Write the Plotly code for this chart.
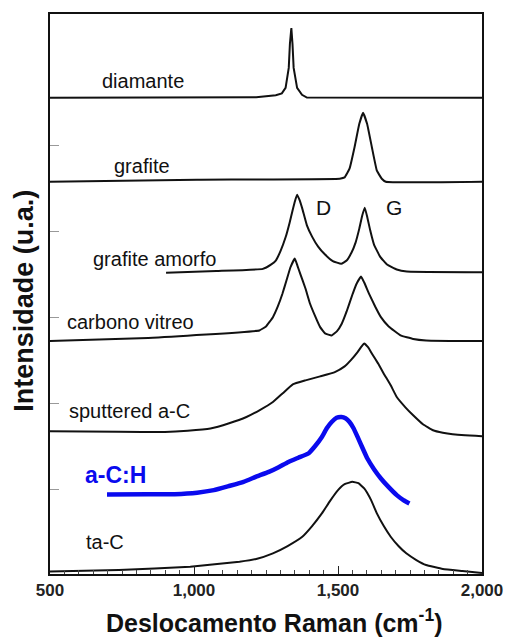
import plotly.graph_objects as go

# Raman shift (cm-1) and stacked intensity (a.u., offset)
diam_x = [500, 1011, 1216, 1284, 1305, 1318, 1329, 1333, 1338, 1342, 1346, 1358, 1375, 1392, 2000]
diam_y = [476, 476, 476.5, 478.7, 480.5, 486, 506, 530, 546, 530, 506, 486, 479, 476.3, 476]

graf_x = [500, 1011, 1506, 1523, 1540, 1557, 1574, 1587, 1601, 1618, 1635, 1652, 1666, 2000]
graf_y = [392, 394, 395, 396.3, 405, 426, 450, 461, 450, 426, 403, 395, 392, 392]

amor_x = [903, 1078, 1239, 1267, 1284, 1301, 1318, 1332, 1342, 1351, 1358, 1366, 1376, 1392, 1410,
          1431, 1455, 1482, 1511, 1530, 1547, 1561, 1574, 1584, 1593, 1602, 1612, 1625, 1646, 1670,
          1704, 1739, 2000]
amor_y = [300.7, 302.5, 304.7, 309, 313, 323, 336.3, 351, 363, 373, 379, 374, 365, 348.3, 337,
          327, 319, 312.5, 309.7, 313, 321, 331, 345, 358, 366, 356, 343, 329, 317, 309,
          304, 302, 301.3]

vitr_x = [500, 841, 1227, 1250, 1274, 1291, 1307, 1321, 1335, 1350, 1359, 1369, 1387, 1403, 1421,
          1438, 1455, 1478, 1496, 1513, 1530, 1551, 1565, 1580, 1591, 1608, 1629, 1649, 1676, 1717,
          1761, 1806, 2000]
vitr_y = [232.3, 235.5, 243, 247, 256.3, 267, 279.7, 293, 306.3, 315, 308, 299.7, 285, 269.7, 257,
          246.3, 240, 238, 242, 249.7, 262, 279.7, 290, 297, 291, 279.7, 267, 256.3, 247, 238,
          234.5, 233, 232.3]

sput_x = [500, 739, 899, 978, 1057, 1122, 1182, 1227, 1274, 1308, 1343, 1387, 1438, 1489, 1523, 1544,
          1568, 1582, 1591, 1605, 1618, 1639, 1659, 1683, 1704, 1734, 1761, 1795, 1830, 1864, 1898, 2000]
sput_y = [142, 141.5, 141.3, 142.5, 144.7, 150, 156.3, 163, 171.3, 180, 189, 193, 197, 201.3, 207, 213,
          221.3, 227, 230, 226, 219.7, 210, 199.7, 188, 176.3, 166, 158, 149, 143, 140.5, 139, 137]

ach_x = [698, 841, 933, 1011, 1069, 1120, 1172, 1216, 1260, 1294, 1328, 1362, 1397, 1420, 1444, 1461,
         1478, 1495, 1512, 1526, 1540, 1554, 1568, 1584, 1602, 1625, 1649, 1676, 1704, 1727, 1748]
ach_y = [78.7, 78.8, 79, 80.5, 83, 87, 91.3, 96.5, 101.3, 106, 111.3, 115.5, 119.7, 127, 136.3, 145,
         151.3, 155.5, 156.3, 155, 151.3, 145, 136.3, 126, 114.7, 104, 94.7, 86, 78, 73, 69.7]

tac_x = [500, 739, 987, 1158, 1216, 1274, 1325, 1376, 1410, 1444, 1472, 1500, 1523, 1550, 1571, 1591,
         1615, 1635, 1659, 1683, 1710, 1737, 1772, 1806, 1864, 1932, 2000]
tac_y = [1.5, 3, 6.3, 11.3, 14, 19.7, 27, 36.3, 47, 59.7, 72, 83, 89, 91.3, 90, 84.7,
         73, 59.7, 47, 36.3, 27, 19.7, 13, 8, 4, 2, 0]

x_tickvals = [500, 1000, 1500, 2000]
x_ticktext = ["500", "1,000", "1,500", "2,000"]
y_tickvals = [84, 170, 256, 342, 428]

labels = ["diamante", "grafite", "D", "G", "grafite amorfo", "carbono vitreo",
          "sputtered a-C", "a-C:H", "ta-C"]
label_x = [824, 818, 1450, 1695, 864, 780, 777, 727, 691]
label_y = [493, 408, 366, 366, 315, 251, 162, 98, 31]

FONT = "Liberation Sans, Arial, sans-serif"
BLUE = "#0a0aee"

fig = go.Figure()
black_series = [(diam_x, diam_y, "linear"), (graf_x, graf_y, "spline"),
                (amor_x, amor_y, "spline"), (vitr_x, vitr_y, "spline"),
                (sput_x, sput_y, "spline"), (tac_x, tac_y, "spline")]
for xs, ys, shp in black_series:
    fig.add_trace(go.Scatter(x=xs, y=ys, mode="lines",
                             line=dict(color="#111111", width=2, shape=shp, smoothing=0.3),
                             showlegend=False, hoverinfo="skip"))
fig.add_trace(go.Scatter(x=ach_x, y=ach_y, mode="lines",
                         line=dict(color=BLUE, width=4.5, shape="spline", smoothing=0.4),
                         showlegend=False, hoverinfo="skip"))

for txt, lx, ly in zip(labels, label_x, label_y):
    if txt == "a-C:H":
        fnt = dict(family=FONT, size=23, color=BLUE)
        t = "<b>a-C:H</b>"
    elif txt in ("D", "G"):
        fnt = dict(family=FONT, size=21, color="#111111")
        t = txt
    else:
        fnt = dict(family=FONT, size=20, color="#111111")
        t = txt
    fig.add_annotation(x=lx, y=ly, text=t, showarrow=False, font=fnt,
                       xanchor="center", yanchor="middle")

# axis titles
fig.add_annotation(xref="paper", yref="paper", x=0.52, y=-0.084, showarrow=False,
                   text="<b>Deslocamento Raman (cm<sup>-1</sup>)</b>",
                   font=dict(family=FONT, size=25, color="#111"),
                   xanchor="center", yanchor="middle")
fig.add_annotation(xref="paper", yref="paper", x=-0.059, y=0.487, showarrow=False,
                   text="<b>Intensidade (u.a.)</b>", textangle=-90,
                   font=dict(family=FONT, size=27, color="#111"),
                   xanchor="center", yanchor="middle")

fig.update_xaxes(range=[500, 2000], tickvals=x_tickvals, ticktext=x_ticktext,
                 ticks="inside", ticklen=8, tickwidth=1.2, tickcolor="#222",
                 minor=dict(dtick=50, ticks="inside", ticklen=4, tickcolor="#444", tickwidth=1),
                 showline=True, linecolor="#111", linewidth=2, mirror=True,
                 showgrid=False, zeroline=False,
                 tickfont=dict(family=FONT, size=17, color="#222", weight="bold"))
fig.update_yaxes(range=[-1, 560], tickvals=y_tickvals, ticktext=[""] * len(y_tickvals),
                 ticks="inside", ticklen=9, tickcolor="#999", tickwidth=1,
                 showline=True, linecolor="#111", linewidth=2, mirror=True,
                 showgrid=False, zeroline=False)

fig.update_layout(width=515, height=639, margin=dict(l=50, r=25, t=13, b=65),
                  paper_bgcolor="white", plot_bgcolor="white")
fig.write_html("out.html")
